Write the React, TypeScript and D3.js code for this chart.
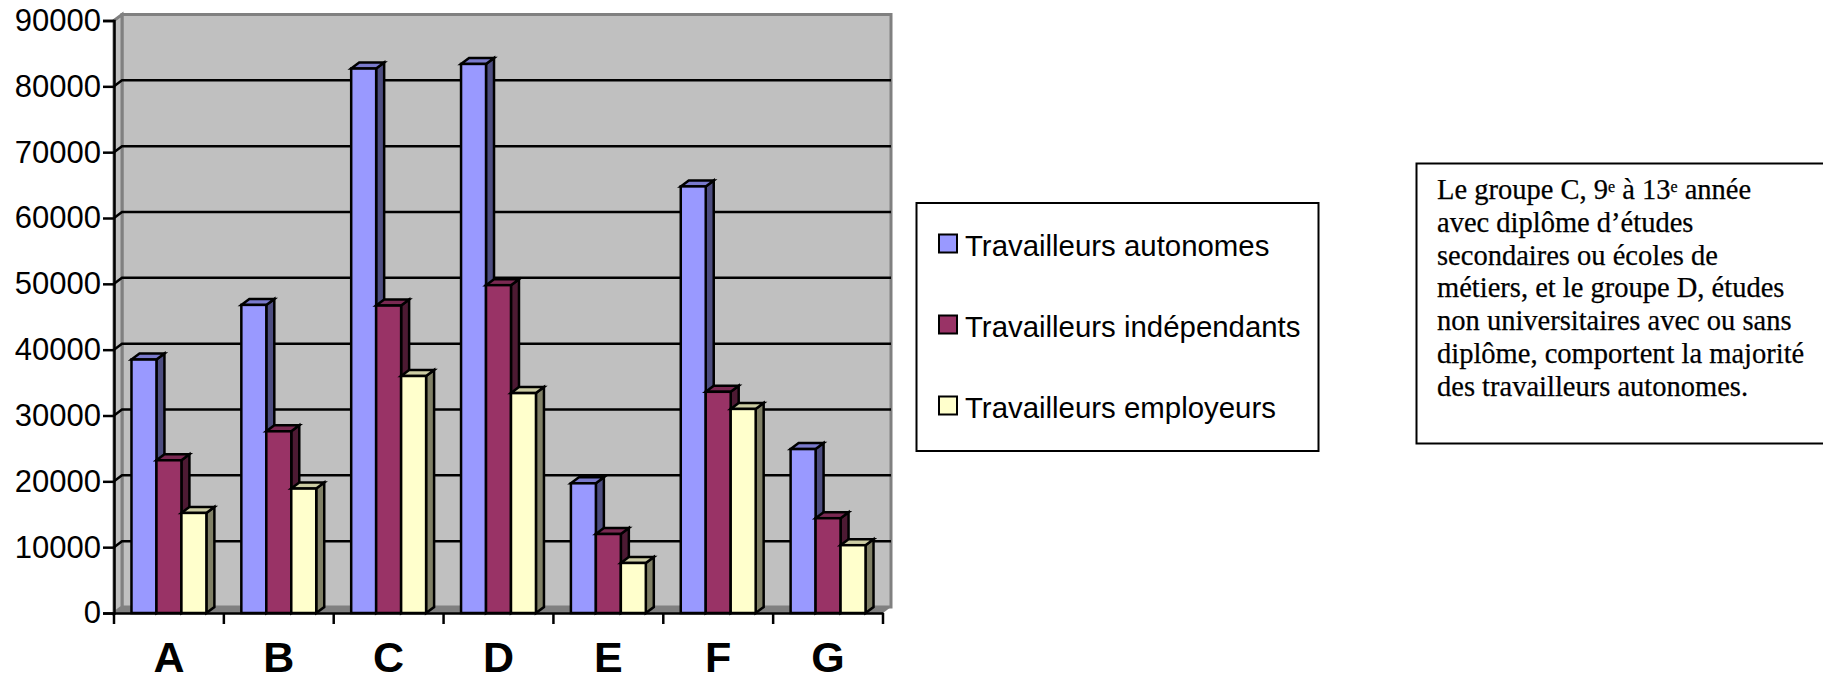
import { useRef, useEffect } from "react";
import * as d3 from "d3";

const categories = ["A", "B", "C", "D", "E", "F", "G"];
const seriesNames = ["Travailleurs autonomes", "Travailleurs indépendants", "Travailleurs employeurs"];
const autonomes = [38500, 46800, 82700, 83400, 19700, 64800, 24900];
const independants = [23200, 27600, 46700, 49800, 12000, 33600, 14400];
const employeurs = [15200, 18900, 36000, 33400, 7600, 31000, 10300];
const seriesValues = [autonomes, independants, employeurs];
const yTicks = [0, 10000, 20000, 30000, 40000, 50000, 60000, 70000, 80000, 90000];

const frontColors = ["#9999ff", "#993366", "#ffffcc"];
const sideColors = ["#4d4d80", "#4d1a33", "#808066"];
const topColors = ["#7a7acc", "#7a2952", "#cccca3"];

const noteLines = [
  [["Le groupe C, 9", false], ["e", true], [" à 13", false], ["e", true], [" année", false]],
  [["avec diplôme d’études", false]],
  [["secondaires ou écoles de", false]],
  [["métiers, et le groupe D, études", false]],
  [["non universitaires avec ou sans", false]],
  [["diplôme, comportent la majorité", false]],
  [["des travailleurs autonomes.", false]],
];

export default function App() {
  const ref = useRef<SVGSVGElement>(null);

  useEffect(() => {
    const svg = d3.select(ref.current);
    svg.selectAll("*").remove();

    const sans = "'Liberation Sans', Arial, sans-serif";
    const left = 114;
    const right = 883;
    const bottom = 613;
    const top = 20.5;
    const dx = 8;
    const dy = -6;

    const y = d3.scaleLinear().domain([0, 90000]).range([bottom, top]);
    const x = d3.scaleBand().domain(categories).range([left, right]);
    const inner = d3.scaleBand()
      .domain(d3.range(3).map(String))
      .range([0, x.bandwidth()])
      .paddingInner(0)
      .paddingOuter(0.7);

    const poly = (pts: number[][]) => pts.map(p => p.join(",")).join(" ");

    // walls
    svg.append("polygon")
      .attr("points", poly([[left + dx, top + dy], [right + dx, top + dy], [right + dx, bottom + dy], [left + dx, bottom + dy]]))
      .attr("fill", "#c0c0c0").attr("stroke", "#808080").attr("stroke-width", 3);
    svg.append("polygon")
      .attr("points", poly([[left, top], [left + dx, top + dy], [left + dx, bottom + dy], [left, bottom]]))
      .attr("fill", "#c0c0c0").attr("stroke", "#808080").attr("stroke-width", 3);
    svg.append("polygon")
      .attr("points", poly([[left, bottom], [left + dx, bottom + dy], [right + dx, bottom + dy], [right, bottom]]))
      .attr("fill", "#808080");

    // gridlines
    yTicks.slice(1, -1).forEach(t => {
      svg.append("polyline")
        .attr("points", poly([[left, y(t)], [left + dx, y(t) + dy], [right + dx, y(t) + dy]]))
        .attr("fill", "none").attr("stroke", "#000").attr("stroke-width", 2.5);
    });

    // bars
    categories.forEach((c, ci) => {
      seriesValues.forEach((values, si) => {
        const x0 = x(c)! + inner(String(si))!;
        const x1 = x0 + inner.bandwidth();
        const yt = y(values[ci]);
        const g = svg.append("g").attr("stroke", "#000").attr("stroke-width", 2.5).attr("stroke-linejoin", "miter");
        g.append("polygon")
          .attr("points", poly([[x1, yt], [x1 + dx, yt + dy], [x1 + dx, bottom + dy], [x1, bottom]]))
          .attr("fill", sideColors[si]);
        g.append("polygon")
          .attr("points", poly([[x0, yt], [x0 + dx, yt + dy], [x1 + dx, yt + dy], [x1, yt]]))
          .attr("fill", topColors[si]);
        g.append("rect")
          .attr("x", x0).attr("y", yt)
          .attr("width", inner.bandwidth()).attr("height", bottom - yt)
          .attr("fill", frontColors[si]);
      });
    });

    // axes
    const yAxis = svg.append("g")
      .attr("transform", `translate(${left},0)`)
      .call(d3.axisLeft(y).tickValues(yTicks).tickFormat(d3.format("d")).tickSize(11).tickPadding(2));
    yAxis.selectAll("path").attr("stroke", "#000").attr("stroke-width", 2.5);
    yAxis.selectAll("line").attr("stroke", "#000").attr("stroke-width", 2.5);
    yAxis.selectAll("text").attr("font-family", sans).attr("font-size", 31).attr("fill", "#000");

    const xAxis = svg.append("g")
      .attr("transform", `translate(0,${bottom})`)
      .call(d3.axisBottom(x).tickSize(0).tickPadding(28));
    xAxis.selectAll("path").attr("stroke", "#000").attr("stroke-width", 2.5);
    xAxis.selectAll("text").attr("font-family", sans).attr("font-size", 43)
      .attr("font-weight", "bold").attr("fill", "#000");
    categories.concat("").forEach((_, i) => {
      const tx = left + i * x.step();
      svg.append("line")
        .attr("x1", tx).attr("x2", tx).attr("y1", bottom).attr("y2", bottom + 11)
        .attr("stroke", "#000").attr("stroke-width", 2.5);
    });

    // legend
    svg.append("rect")
      .attr("x", 916.5).attr("y", 203).attr("width", 402).attr("height", 248)
      .attr("fill", "#fff").attr("stroke", "#000").attr("stroke-width", 2);
    seriesNames.forEach((name, i) => {
      const ly = 244 + i * 81;
      svg.append("rect")
        .attr("x", 939).attr("y", ly - 9.5).attr("width", 18).attr("height", 18)
        .attr("fill", frontColors[i]).attr("stroke", "#000").attr("stroke-width", 2);
      svg.append("text")
        .attr("x", 965).attr("y", ly + 11.5)
        .attr("font-family", sans).attr("font-size", 29.4)
        .text(name);
    });

    // note
    svg.append("rect")
      .attr("x", 1416.5).attr("y", 163.5).attr("width", 420).attr("height", 280)
      .attr("fill", "#fff").attr("stroke", "#000").attr("stroke-width", 2);
    noteLines.forEach((parts, i) => {
      const t = svg.append("text")
        .attr("x", 1437).attr("y", 199 + i * 32.8)
        .attr("font-family", "'Liberation Serif', serif").attr("font-size", 28.5)
        .attr("stroke", "#000").attr("stroke-width", 0.25);
      parts.forEach(([s, sup]) => {
        const span = t.append("tspan").text(s as string);
        if (sup) span.attr("font-size", 16).attr("dy", -7);
        else if (t.selectAll("tspan").size() > 1) span.attr("dy", 7);
      });
    });
  }, []);

  return <svg ref={ref} width={1823} height={677} style={{ position: "absolute", left: 0, top: 0 }}></svg>;
}
